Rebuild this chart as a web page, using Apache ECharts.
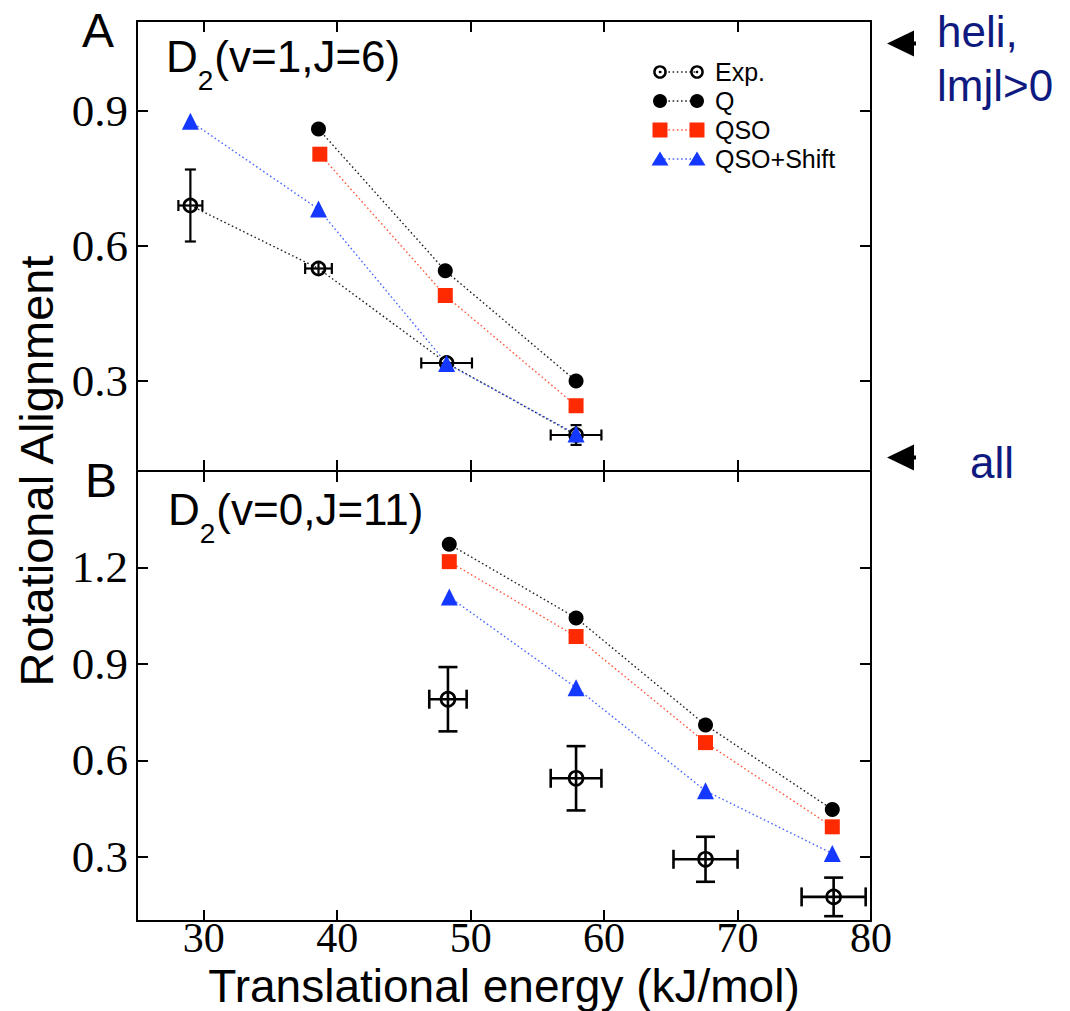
<!DOCTYPE html>
<html><head><meta charset="utf-8">
<script src="https://cdn.jsdelivr.net/npm/echarts@6/dist/echarts.min.js"></script>
<style>html,body{margin:0;padding:0;background:#fff}#c{width:1070px;height:1011px}</style>
</head><body><div id="c"></div>
<script>
// ---------- data ----------
const xTicks = [30, 40, 50, 60, 70, 80];
const topYTicks = [0.3, 0.6, 0.9];
const botYTicks = [0.3, 0.6, 0.9, 1.2];

const seriesNames = ['Exp.', 'Q', 'QSO', 'QSO+Shift'];

// Panel A: D2(v=1,J=6)
const topExpX = [29.0, 38.6, 48.2, 57.9];
const topExpY = [0.69, 0.55, 0.34, 0.18];
const topExpXErr = [0.9, 1.0, 1.9, 1.9];
const topExpYErr = [0.08, 0.015, 0.015, 0.022];
const topQX = [38.6, 48.1, 57.9];
const topQY = [0.86, 0.545, 0.30];
const topQsoX = [38.7, 48.1, 57.9];
const topQsoY = [0.804, 0.49, 0.245];
const topShiftX = [29.0, 38.6, 48.2, 57.9];
const topShiftY = [0.877, 0.682, 0.339, 0.182];

// Panel B: D2(v=0,J=11)
const botExpX = [48.3, 57.9, 67.6, 77.2];
const botExpY = [0.79, 0.544, 0.292, 0.175];
const botExpXErr = [1.4, 1.9, 2.4, 2.4];
const botExpYErr = [0.10, 0.10, 0.07, 0.06];
const botX = [48.4, 57.9, 67.6, 77.1];
const botQY = [1.272, 1.043, 0.71, 0.447];
const botQsoY = [1.218, 0.985, 0.655, 0.393];
const botShiftY = [1.108, 0.826, 0.505, 0.31];

// limit markers on the right of panel A
const limitValues = [1.05, 0.13];

// ---------- styles ----------
const SANS = 'Liberation Sans';
const SERIF = 'Liberation Serif';
const BLACK = '#000000';
const RED = '#ff2a00';
const BLUE = '#1438ff';
const NAVY = '#0f1a80';
const DOT = [1.6, 2.6];

const zip = (xs, ys) => xs.map((x, i) => [x, ys[i]]);
const zipErr = (xs, ys, xe, ye) => xs.map((x, i) => [x, ys[i], xe[i], ye[i]]);

function xAx(grid, pos, showLabel, name) {
  return {
    type: 'value', gridIndex: grid, position: pos, min: 25, max: 80,
    axisLine: { show: true, onZero: false, lineStyle: { color: BLACK, width: 2 } },
    axisTick: { show: true, inside: true, length: 11, customValues: xTicks, lineStyle: { color: BLACK, width: 2 } },
    axisLabel: { show: showLabel, customValues: xTicks, margin: -4, color: BLACK,
      fontFamily: SERIF, fontSize: 42 },
    splitLine: { show: false },
    name: name || '', nameLocation: 'middle', nameGap: 42, nameMoveOverlap: false,
    nameTextStyle: { fontFamily: SANS, fontSize: 46, color: BLACK }
  };
}
function yAx(grid, pos, showLabel, min, max, ticks) {
  return {
    type: 'value', gridIndex: grid, position: pos, min: min, max: max,
    axisLine: { show: true, onZero: false, lineStyle: { color: BLACK, width: 2 } },
    axisTick: { show: true, inside: true, length: 11, customValues: ticks, lineStyle: { color: BLACK, width: 2 } },
    axisLabel: { show: showLabel, customValues: ticks, margin: 9, color: BLACK,
      fontFamily: SERIF, fontSize: 45, formatter: v => v.toFixed(1) },
    splitLine: { show: false }
  };
}

function errRender(capHalf, lw) {
  return function (params, api) {
    const x = api.value(0), y = api.value(1), xe = api.value(2), ye = api.value(3);
    const c = api.coord([x, y]);
    const l = api.coord([x - xe, y]), r = api.coord([x + xe, y]);
    const t = api.coord([x, y + ye]), b = api.coord([x, y - ye]);
    const st = { stroke: BLACK, lineWidth: lw, fill: null };
    const ch = [];
    ch.push({ type: 'line', shape: { x1: l[0], y1: c[1], x2: r[0], y2: c[1] }, style: st });
    if (r[0] - c[0] > 8) {
      ch.push({ type: 'line', shape: { x1: l[0], y1: c[1] - capHalf, x2: l[0], y2: c[1] + capHalf }, style: st });
      ch.push({ type: 'line', shape: { x1: r[0], y1: c[1] - capHalf, x2: r[0], y2: c[1] + capHalf }, style: st });
    }
    ch.push({ type: 'line', shape: { x1: c[0], y1: t[1], x2: c[0], y2: b[1] }, style: st });
    if (b[1] - c[1] > 8) {
      ch.push({ type: 'line', shape: { x1: c[0] - capHalf, y1: t[1], x2: c[0] + capHalf, y2: t[1] }, style: st });
      ch.push({ type: 'line', shape: { x1: c[0] - capHalf, y1: b[1], x2: c[0] + capHalf, y2: b[1] }, style: st });
    }
    return { type: 'group', children: ch };
  };
}

function lineSeries(name, xi, yi, data, symbol, size, color, lineColor, showLine, hollow) {
  return {
    name: name, type: 'line', xAxisIndex: xi, yAxisIndex: yi, data: data,
    symbol: symbol, symbolSize: size, showSymbol: true, animation: false,
    lineStyle: { color: lineColor, width: showLine ? 1.4 : 0, type: DOT, opacity: showLine ? 1 : 0 },
    itemStyle: hollow ? { color: 'rgba(0,0,0,0)', borderColor: BLACK, borderWidth: 2.6 }
                      : { color: color, borderWidth: 0 },
    z: 3
  };
}

const chart = echarts.init(document.getElementById('c'), null, { renderer: 'svg' });

const option = {
  backgroundColor: '#ffffff',
  animation: false,
  grid: [
    { left: 137, top: 21, width: 734, height: 450, outerBoundsMode: 'none', containLabel: false },
    { left: 137, top: 471, width: 734, height: 450, outerBoundsMode: 'none', containLabel: false }
  ],
  xAxis: [
    xAx(0, 'bottom', false),
    xAx(0, 'top', false),
    xAx(1, 'bottom', true, 'Translational energy (kJ/mol)'),
    xAx(1, 'top', false)
  ],
  yAxis: [
    yAx(0, 'left', true, 0.1, 1.1, topYTicks),
    yAx(0, 'right', false, 0.1, 1.1, topYTicks),
    yAx(1, 'left', true, 0.1, 1.5, botYTicks),
    yAx(1, 'right', false, 0.1, 1.5, botYTicks)
  ],
  series: [
    // Panel A
    { name: 'errA', type: 'custom', xAxisIndex: 0, yAxisIndex: 0, renderItem: errRender(5.5, 2.2),
      data: zipErr(topExpX, topExpY, topExpXErr, topExpYErr), encode: { x: 0, y: 1 }, z: 2, clip: false },
    lineSeries(seriesNames[0], 0, 0, zip(topExpX, topExpY), 'circle', 13, BLACK, '#222', true, true),
    lineSeries(seriesNames[1], 0, 0, zip(topQX, topQY), 'circle', 15, BLACK, '#222', true, false),
    lineSeries(seriesNames[2], 0, 0, zip(topQsoX, topQsoY), 'rect', 15, RED, '#ff5a40', true, false),
    lineSeries(seriesNames[3], 0, 0, zip(topShiftX, topShiftY), 'triangle', 17, BLUE, '#4a66ff', true, false),
    // Panel B
    { name: 'errB', type: 'custom', xAxisIndex: 2, yAxisIndex: 2, renderItem: errRender(9.5, 2.6),
      data: zipErr(botExpX, botExpY, botExpXErr, botExpYErr), encode: { x: 0, y: 1 }, z: 2, clip: false },
    lineSeries(seriesNames[0], 2, 2, zip(botExpX, botExpY), 'circle', 14, BLACK, '#222', false, true),
    lineSeries(seriesNames[1], 2, 2, zip(botX, botQY), 'circle', 15, BLACK, '#222', true, false),
    lineSeries(seriesNames[2], 2, 2, zip(botX, botQsoY), 'rect', 15, RED, '#ff5a40', true, false),
    lineSeries(seriesNames[3], 2, 2, zip(botX, botShiftY), 'triangle', 17, BLUE, '#4a66ff', true, false)
  ]
};
chart.setOption(option);

// ---------- annotations ----------
const mc = document.createElement('canvas').getContext('2d');
function tw(txt, font) { mc.font = font; return mc.measureText(txt).width; }

function subLabel(x, baseY, main, sub, rest) {
  const f1 = "44px 'Liberation Sans'", f2 = "28px 'Liberation Sans'";
  const w1 = tw(main, f1), w2 = tw(sub, f2);
  return [
    { type: 'text', style: { text: main, x: x, y: baseY - 15, font: f1, fill: BLACK, verticalAlign: 'middle' } },
    { type: 'text', style: { text: sub, x: x + w1, y: baseY + 19 - 10, font: f2, fill: BLACK, verticalAlign: 'middle' } },
    { type: 'text', style: { text: rest, x: x + w1 + w2 + 1, y: baseY - 15, font: f1, fill: BLACK, verticalAlign: 'middle' } }
  ];
}

const g = [];
// y axis title
g.push({ type: 'text', x: 36, y: 471, rotation: Math.PI / 2,
  style: { text: 'Rotational Alignment', x: 0, y: 0, font: "47px 'Liberation Sans'", fill: BLACK, align: 'center', verticalAlign: 'middle' } });
// panel letters
g.push({ type: 'text', style: { text: 'A', x: 82, y: 30, font: "48px 'Liberation Sans'", fill: BLACK, verticalAlign: 'middle' } });
g.push({ type: 'text', style: { text: 'B', x: 85, y: 480, font: "48px 'Liberation Sans'", fill: BLACK, verticalAlign: 'middle' } });
// state labels
subLabel(166, 71, 'D', '2', '(v=1,J=6)').forEach(e => g.push(e));
subLabel(168, 524, 'D', '2', '(v=0,J=11)').forEach(e => g.push(e));

// legend
const legY = [72, 101, 130, 159];
const legSty = [
  { sym: 'ocircle', color: BLACK, line: '#222' },
  { sym: 'circle', color: BLACK, line: '#222' },
  { sym: 'rect', color: RED, line: '#ff5a40' },
  { sym: 'triangle', color: BLUE, line: '#4a66ff' }
];
function legMarker(kind, cx, cy, color) {
  if (kind === 'ocircle') return [
    { type: 'circle', shape: { cx: cx, cy: cy, r: 5.6 }, style: { fill: 'none', stroke: BLACK, lineWidth: 2.4 } },
    { type: 'circle', shape: { cx: cx, cy: cy, r: 1.3 }, style: { fill: BLACK } }];
  if (kind === 'circle') return [{ type: 'circle', shape: { cx: cx, cy: cy, r: 7 }, style: { fill: color } }];
  if (kind === 'rect') return [{ type: 'rect', shape: { x: cx - 7.5, y: cy - 7.5, width: 15, height: 15 }, style: { fill: color } }];
  return [{ type: 'polygon', shape: { points: [[cx, cy - 7.5], [cx + 8.5, cy + 6.5], [cx - 8.5, cy + 6.5]] }, style: { fill: color } }];
}
seriesNames.forEach((nm, i) => {
  const y = legY[i], s = legSty[i];
  g.push({ type: 'line', shape: { x1: 660, y1: y, x2: 697, y2: y }, style: { stroke: s.line, lineWidth: 1.6, lineDash: DOT } });
  legMarker(s.sym, 660, y, s.color).forEach(e => g.push(e));
  legMarker(s.sym, 697, y, s.color).forEach(e => g.push(e));
  g.push({ type: 'text', style: { text: nm, x: 715, y: y, font: "25px 'Liberation Sans'", fill: BLACK, verticalAlign: 'middle' } });
});

// limit arrows
const rightX = chart.convertToPixel({ xAxisIndex: 0 }, 80);
limitValues.forEach(v => {
  const py = chart.convertToPixel({ yAxisIndex: 0 }, v);
  const tip = rightX + 16;
  g.push({ type: 'polygon', shape: { points: [[tip, py], [tip + 27, py - 13], [tip + 27, py - 2], [tip + 29, py - 2], [tip + 29, py + 2], [tip + 27, py + 2], [tip + 27, py + 13]] },
    style: { fill: BLACK } });
});
g.push({ type: 'text', style: { text: 'heli,', x: 937, y: 31, font: "44px 'Liberation Sans'", fill: NAVY, verticalAlign: 'middle' } });
g.push({ type: 'text', style: { text: 'lmjl>0', x: 937, y: 85, font: "44px 'Liberation Sans'", fill: NAVY, verticalAlign: 'middle' } });
g.push({ type: 'text', style: { text: 'all', x: 970, y: 462, font: "44px 'Liberation Sans'", fill: NAVY, verticalAlign: 'middle' } });

chart.setOption({ graphic: g });
</script>
</body></html>
